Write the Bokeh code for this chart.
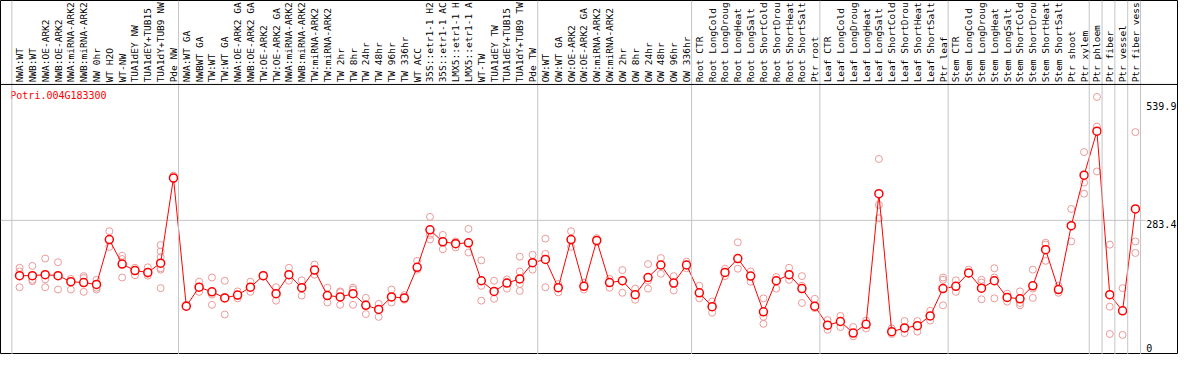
import math
from bokeh.plotting import figure
from bokeh.models import Range1d, Span, ColumnDataSource
from bokeh.core.properties import value
from bokeh.embed import file_html
from bokeh.resources import INLINE

gene_id = "Potri.004G183300"

# category labels exactly as shown (the chart truncates them to 14 characters)
categories = [
    "NWA:WT", "NWB:WT", "NWA:OE-ARK2", "NWB:OE-ARK2", "NWA:miRNA-ARK2", "NWB:miRNA-ARK2",
    "NW 0hr", "WT H2O", "WT-NW", "TUA1dEY NW", "TUA1dEY+TUB15", "TUA1dY+TUB9 NW", "Pde NW",
    "NWA:WT GA", "NWBWT GA", "TW:WT", "TW:WT GA", "NWA:OE-ARK2 GA", "NWB:OE-ARK2 GA",
    "TW:OE-ARK2", "TW:OE-ARK2 GA", "NWA:miRNA-ARK2", "NWB:miRNA-ARK2", "TW:miRNA-ARK2",
    "TW:miRNA-ARK2", "TW 2hr", "TW 8hr", "TW 24hr", "TW 48hr", "TW 96hr", "TW 336hr", "WT ACC",
    "35S::etr1-1 H2", "35S::etr1-1 AC", "LMX5::etr1-1 H", "LMX5::etr1-1 A", "WT-TW",
    "TUA1dEY TW", "TUA1dEY+TUB15", "TUA1dY+TUB9 TW", "Pde TW",
    "OW:WT", "OW:WT GA", "OW:OE-ARK2", "OW:OE-ARK2 GA", "OW:miRNA-ARK2", "OW:miRNA-ARK2",
    "OW 2hr", "OW 8hr", "OW 24hr", "OW 48hr", "OW 96hr", "OW 336hr",
    "Root CTR", "Root LongCold", "Root LongDroug", "Root LongHeat", "Root LongSalt",
    "Root ShortCold", "Root ShortDrou", "Root ShortHeat", "Root ShortSalt", "Ptr root",
    "Leaf CTR", "Leaf LongCold", "Leaf LongDroug", "Leaf LongHeat", "Leaf LongSalt",
    "Leaf ShortCold", "Leaf ShortDrou", "Leaf ShortHeat", "Leaf ShortSalt", "Ptr leaf",
    "Stem CTR", "Stem LongCold", "Stem LongDroug", "Stem LongHeat", "Stem LongSalt",
    "Stem ShortCold", "Stem ShortDrou", "Stem ShortHeat", "Stem ShortSalt", "Ptr shoot",
    "Ptr xylem", "Ptr phloem", "Ptr fiber", "Ptr vessel", "Ptr fiber vess",
]

group_sizes = [13, 28, 12, 10, 10, 11, 1, 1, 1, 1]

means = [
    164, 164, 166, 164, 151, 149, 145, 242, 189, 175, 171, 191, 375,
    98, 139, 129, 116, 122, 139, 164, 125, 166, 138, 176, 121, 118, 125, 100, 91, 118, 116,
    182, 263, 237, 233, 235, 153, 130, 148, 157, 192,
    199, 138, 242, 141, 240, 149, 153, 123, 160, 187, 148, 187,
    127, 97, 171, 201, 163, 86, 153, 166, 136, 98,
    57, 65, 40, 59, 341, 43, 51, 56, 77, 136,
    141, 170, 137, 153, 117, 114, 142, 220, 134, 272, 381,
    476, 123, 88, 308,
]

replicates = [
    [181, 173, 139], [185, 155, 152], [201, 156, 139], [193, 164, 134], [157, 150, 134],
    [163, 159, 129], [155, 138, 134], [260, 226, 241], [207, 200, 160], [181, 165, 176],
    [182, 164, 168], [230, 216, 204, 180, 177, 137], [380, 372, 376],
    [101, 97, 98], [151, 129, 140], [160, 123, 101], [153, 80, 118], [130, 115, 121],
    [151, 129, 139], [164, 162, 166], [139, 110, 126], [181, 153, 165], [154, 121, 139],
    [188, 166, 175], [138, 106, 120], [130, 128, 101], [138, 134, 101], [116, 81, 102],
    [103, 75, 92], [134, 106, 117], [122, 112, 115], [196, 177, 183], [291, 252, 242],
    [252, 221, 238], [238, 225, 236], [265, 214, 234], [197, 142, 110], [153, 114, 131],
    [156, 136, 150], [205, 173, 146, 131], [209, 177, 193],
    [244, 211, 139], [146, 128, 137], [260, 226, 240], [149, 134, 142], [245, 238, 236],
    [157, 138, 150], [176, 127, 152], [136, 112, 124], [189, 153, 136], [202, 168, 187],
    [163, 132, 149], [194, 180, 188],
    [142, 115, 128], [108, 84, 97], [179, 163, 172], [236, 179, 200], [173, 151, 162],
    [115, 75, 60], [161, 136, 154], [181, 155, 167], [163, 142, 105], [114, 94, 97],
    [68, 47, 57], [77, 53, 66], [53, 33, 40], [67, 50, 59], [416, 317, 288],
    [50, 38, 44], [66, 40, 52], [66, 43, 56], [88, 67, 78], [160, 155, 100],
    [154, 129, 141], [177, 170, 168], [155, 149, 113], [180, 160, 115], [125, 108, 118],
    [130, 105, 100], [177, 136, 116], [235, 231, 196], [142, 127, 134], [308, 238, 272],
    [431, 365, 341],
    [550, 486, 389], [231, 97, 38], [137, 36], [474, 238, 213],
]

tick_values = [0, 283.4, 539.9]
mid_tick = 283.4

# ---------------- layout ----------------
W, H = 1178, 354
n = len(categories)
idx = list(range(n))

X0, X1 = -1.485, 90.36
Y0, Y1 = -6.3, 758.3
header_base = 577.0      # value level of the black rule under the labels
label_start = 581.5

p = figure(width=W, height=H, x_range=Range1d(X0, X1), y_range=Range1d(Y0, Y1),
           output_backend="svg", toolbar_location=None,
           x_axis_location=None, y_axis_location=None, min_border=0)
p.grid.visible = False
p.outline_line_color = "black"
p.outline_line_width = 1
p.background_fill_color = "white"
p.border_fill_color = "white"

GRID = "#c4c4c4"
MONO = value("DejaVu Sans Mono")

# group separators
bounds = [0]
for g in group_sizes:
    bounds.append(bounds[-1] + g)
for b in bounds:
    p.add_layout(Span(location=b - 0.6, dimension="height", line_color=GRID, line_width=1))

# header rule
p.add_layout(Span(location=header_base, dimension="width", line_color="black", line_width=1))

# mid grid line
p.segment(x0=[X0], y0=[mid_tick], x1=[87.8], y1=[mid_tick], line_color=GRID, line_width=1)

# category labels (vertical)
lab_src = ColumnDataSource(dict(x=idx, y=[label_start] * n, t=categories))
p.text(x="x", y="y", text="t", source=lab_src, angle=math.pi / 2,
       text_align="left", text_baseline="middle",
       text_font=MONO, text_font_size="9.5px", text_color="black")

# title
p.text(x=[-0.72], y=[564], text=[gene_id], text_align="left", text_baseline="top",
       text_font=MONO, text_font_size="10px", text_color="red")

# replicate points
rx, ry = [], []
for i, reps in enumerate(replicates):
    for r in reps:
        rx.append(i)
        ry.append(r)
p.scatter(x=rx, y=ry, marker="circle", size=7, fill_color=None,
          line_color="#ec9a9a", line_width=1)

# mean line + markers
msrc = ColumnDataSource(dict(x=idx, y=means))
p.line(x="x", y="y", source=msrc, line_color="red", line_width=1)
p.scatter(x="x", y="y", source=msrc, marker="circle", size=8, fill_color="white",
          line_color="red", line_width=1.5)

# value labels on the right
top_ticks = [v for v in tick_values if v > 0]
zero_ticks = [v for v in tick_values if v == 0]
p.text(x=[87.85] * len(top_ticks), y=top_ticks, text=[str(v) for v in top_ticks],
       text_align="left", text_baseline="top",
       text_font=MONO, text_font_size="10px", text_color="black")
p.text(x=[87.85] * len(zero_ticks), y=zero_ticks, text=[str(v) for v in zero_ticks],
       text_align="left", text_baseline="bottom",
       text_font=MONO, text_font_size="10px", text_color="black")

open("out.html", "w").write(file_html(p, INLINE))
